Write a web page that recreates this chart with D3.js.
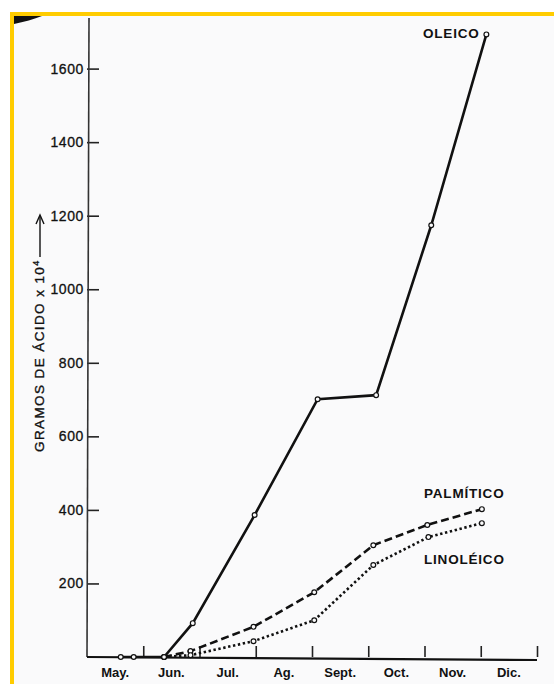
<!DOCTYPE html>
<html>
<head>
<meta charset="utf-8">
<script src="https://cdn.jsdelivr.net/npm/d3@7"></script>
<style>
  body { margin: 0; background: #fff; }
  svg { display: block; }
  text { font-family: "Liberation Sans", Arial, sans-serif; fill: #111; }
</style>
</head>
<body>
<div id="chart"></div>
<script>
// months measured from May 1st (0) to Jan 1st (8)
const months = ['May.', 'Jun.', 'Jul.', 'Ag.', 'Sept.', 'Oct.', 'Nov.', 'Dic.'];
const yTicks = [200, 400, 600, 800, 1000, 1200, 1400, 1600];

// sampling dates (in months since May 1st)
const oleicoX = [0.6, 0.83, 1.37, 1.88, 2.98, 4.1, 5.14, 6.12, 7.1];
const oleicoY = [0, 0, 0, 92, 386, 701, 712, 1174, 1693];

const palmX = [1.37, 1.84, 2.96, 4.04, 5.09, 6.05, 7.02];
const palmY = [0, 16, 82, 176, 304, 359, 402];

const linoX = [1.37, 1.84, 2.96, 4.04, 5.09, 6.07, 7.02];
const linoY = [0, 5, 43, 100, 250, 326, 364];

const width = 554, height = 684;

const svg = d3.select('#chart').append('svg')
  .attr('width', width)
  .attr('height', height);

// paper + yellow frame
svg.append('rect').attr('x', 10).attr('y', 12).attr('width', width).attr('height', height)
  .attr('fill', '#fafafb');
svg.append('rect').attr('x', 10).attr('y', 12).attr('width', width - 10).attr('height', 4)
  .attr('fill', '#ffcc00');
svg.append('rect').attr('x', 10).attr('y', 12).attr('width', 4).attr('height', height - 12)
  .attr('fill', '#ffcc00');
// scan blemish top-left
svg.append('path')
  .attr('d', 'M14,16 L42,16 C34,19 24,22 14,24 Z')
  .attr('fill', '#111');

const x = d3.scaleLinear().domain([0, 8]).range([87, 537]);
const y = d3.scaleLinear().domain([0, 1600]).range([657, 68.6]);

// y axis
const yAxis = svg.append('g')
  .attr('transform', `translate(${x(0)},0)`)
  .call(d3.axisRight(y).tickValues(yTicks).tickSize(12).tickFormat(d => d));
yAxis.select('.domain').remove();
yAxis.selectAll('.tick line').attr('stroke', '#222').attr('stroke-width', 1.6);
yAxis.selectAll('.tick text')
  .attr('x', -3)
  .attr('text-anchor', 'end')
  .style('font-size', '14px')
  .style('letter-spacing', '0.6px')
  .style('stroke', '#111')
  .style('stroke-width', '0.3px');
svg.append('line')
  .attr('x1', x(0) + 2).attr('y1', 18)
  .attr('x2', x(0)).attr('y2', y(0))
  .attr('stroke', '#333').attr('stroke-width', 1.6);

// x axis
svg.append('line')
  .attr('x1', x(0)).attr('y1', y(0))
  .attr('x2', x(8)).attr('y2', y(0) + 3)
  .attr('stroke', '#111').attr('stroke-width', 2.2);
const xAxis = svg.append('g')
  .attr('transform', `translate(0,${y(0)})`)
  .call(d3.axisTop(x).tickValues(d3.range(1, 9)).tickSize(11).tickFormat(''));
xAxis.select('.domain').remove();
xAxis.selectAll('.tick line').attr('stroke', '#222').attr('stroke-width', 1.6);

svg.append('g').selectAll('text')
  .data(months)
  .join('text')
  .attr('x', (d, i) => x(i + 0.5))
  .attr('y', y(0) + 20)
  .attr('text-anchor', 'middle')
  .style('font-size', '13px')
  .style('font-weight', 'bold')
  .text(d => d);

// y axis title
const title = svg.append('text')
  .attr('transform', 'translate(44,452) rotate(-90)')
  .style('font-size', '13.5px')
  .style('letter-spacing', '1.4px')
  .style('stroke', '#111')
  .style('stroke-width', '0.35px');
title.append('tspan').text('GRAMOS DE ÁCIDO x 10');
title.append('tspan').attr('dy', -5).style('font-size', '9px').text('4');
svg.append('line')
  .attr('x1', 40).attr('y1', 257).attr('x2', 40).attr('y2', 217)
  .attr('stroke', '#111').attr('stroke-width', 1.4);
svg.append('path')
  .attr('d', 'M36,224 L40,215 L44,224')
  .attr('fill', 'none').attr('stroke', '#111').attr('stroke-width', 1.4);

// series
const series = [
  { name: 'OLEICO', xs: oleicoX, ys: oleicoY, dash: null, w: 2.6 },
  { name: 'PALMÍTICO', xs: palmX, ys: palmY, dash: '8,4', w: 2.6 },
  { name: 'LINOLÉICO', xs: linoX, ys: linoY, dash: '2.4,2.6', w: 2.6 }
];

const line = d3.line()
  .x(d => x(d[0]))
  .y(d => y(d[1]));

series.forEach(s => {
  const pts = s.xs.map((v, i) => [v, s.ys[i]]);
  svg.append('path')
    .datum(pts)
    .attr('fill', 'none')
    .attr('stroke', '#111')
    .attr('stroke-width', s.w)
    .attr('stroke-dasharray', s.dash)
    .attr('d', line);
  svg.append('g').selectAll('circle')
    .data(pts)
    .join('circle')
    .attr('cx', d => x(d[0]))
    .attr('cy', d => y(d[1]))
    .attr('r', 2.4)
    .attr('fill', '#fafafb')
    .attr('stroke', '#111')
    .attr('stroke-width', 1.2);
});

// series labels
const labels = [
  { text: 'OLEICO', x: 423, y: 38 },
  { text: 'PALMÍTICO', x: 424, y: 498 },
  { text: 'LINOLÉICO', x: 424, y: 564 }
];
svg.append('g').selectAll('text')
  .data(labels)
  .join('text')
  .attr('x', d => d.x)
  .attr('y', d => d.y)
  .style('font-size', '13.5px')
  .style('font-weight', 'bold')
  .style('letter-spacing', '0.8px')
  .text(d => d.text);
</script>
</body>
</html>
